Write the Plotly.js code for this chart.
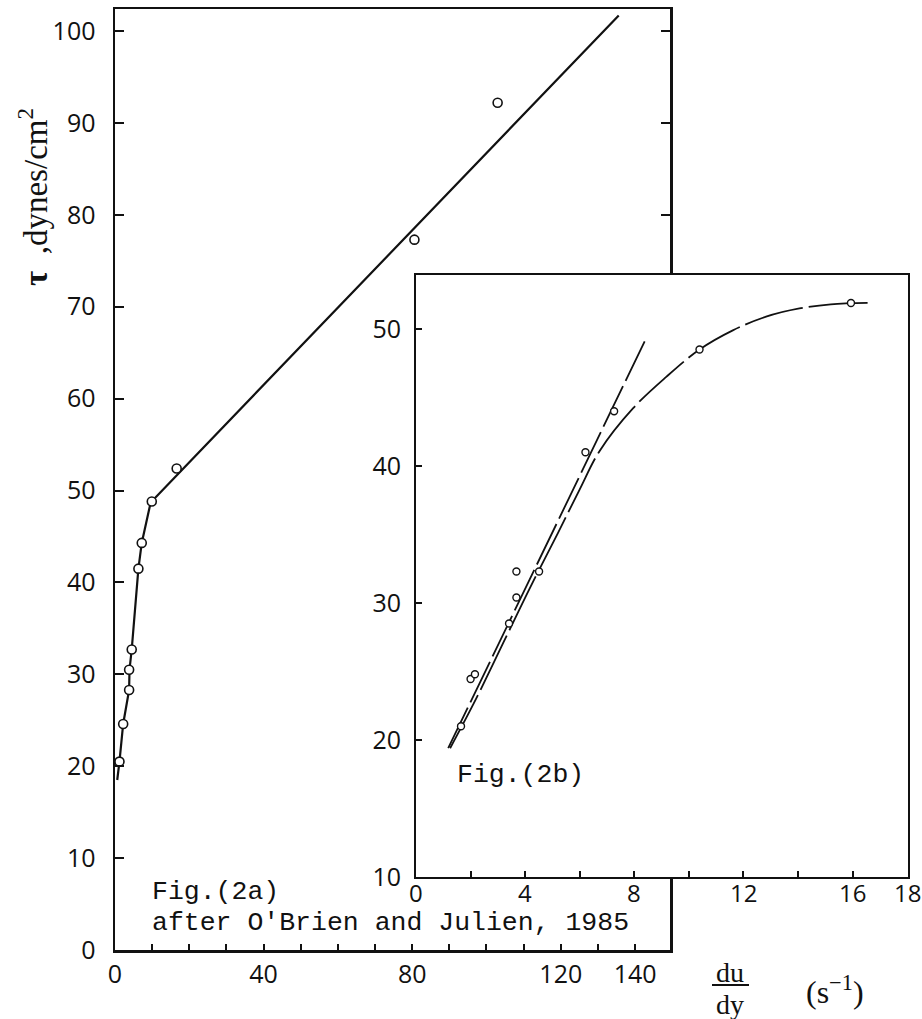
<!DOCTYPE html>
<html>
<head>
<meta charset="utf-8">
<script src="https://cdn.plot.ly/plotly-3.0.1.min.js"></script>
<style>html,body{margin:0;padding:0;background:#fff;}#chart{width:922px;height:1019px;}</style>
</head>
<body>
<div id="chart"></div>
<script>
// ---- Fig. (2a): shear stress vs. shear rate (main plot) ----
const mainPointsX = [1.2, 2.2, 3.8, 3.8, 4.5, 6.3, 7.2, 9.9, 16.6, 80.6, 103.0];
const mainPointsY = [20.5, 24.6, 28.3, 30.5, 32.7, 41.5, 44.3, 48.8, 52.4, 77.3, 92.2];
const mainFitX = [0.6, 1.2, 2.2, 3.8, 3.9, 4.5, 6.3, 7.2, 9.6, 135.6];
const mainFitY = [18.5, 20.5, 24.6, 28.3, 30.5, 32.7, 41.5, 44.3, 48.7, 101.7];
const mainXTicks = [0, 40, 80, 120, 140];
const mainYTicks = [0, 10, 20, 30, 40, 50, 60, 70, 80, 90, 100];

// ---- Fig. (2b): inset ----
const insetPointsX = [1.65, 2.0, 2.16, 3.41, 3.68, 3.68, 4.51, 6.21, 7.26, 10.39, 15.94];
const insetPointsY = [21.0, 24.45, 24.8, 28.5, 30.4, 32.3, 32.3, 41.0, 44.0, 48.5, 51.9];
const insetLineX = [1.18, 8.38];
const insetLineY = [19.4, 49.1];
const insetCurveX = [1.25, 2.2, 3.2, 4.2, 5.2, 6.0, 6.73, 7.95, 9.17, 10.39, 11.61, 12.83, 14.05, 15.2, 16.55];
const insetCurveY = [19.4, 23.0, 27.1, 31.2, 35.1, 38.3, 41.1, 44.2, 46.5, 48.5, 49.9, 50.9, 51.5, 51.8, 51.9];
const insetXTicks = [0, 4, 8, 12, 16, 18];
const insetYTicks = [10, 20, 30, 40, 50];

const W = 922, H = 1019;
const px = v => v / W;
const py = v => 1 - v / H;

const ink = '#111';
const tickFont = {family: 'Open Sans, DejaVu Sans, sans-serif', size: 25, color: ink};
const monoFont = {family: 'Liberation Mono, Courier New, monospace', size: 26.5, color: ink};
const serifFont = {family: 'Liberation Serif, Times New Roman, serif', size: 28, color: ink};
const NB = '\u00a0';

const traces = [
  {x: mainFitX, y: mainFitY, xaxis: 'x', yaxis: 'y', mode: 'lines',
   line: {color: ink, width: 2.2}, hoverinfo: 'skip', showlegend: false},
  {x: mainPointsX, y: mainPointsY, xaxis: 'x', yaxis: 'y', mode: 'markers',
   marker: {symbol: 'circle', size: 9, color: '#fff', line: {color: ink, width: 1.6}}, showlegend: false},
  {x: insetLineX, y: insetLineY, xaxis: 'x2', yaxis: 'y2', mode: 'lines',
   line: {color: ink, width: 1.8, dash: '45px,6px'}, hoverinfo: 'skip', showlegend: false},
  {x: insetCurveX, y: insetCurveY, xaxis: 'x2', yaxis: 'y2', mode: 'lines',
   line: {color: ink, width: 1.8, dash: '60px,6px', shape: 'spline', smoothing: 1}, hoverinfo: 'skip', showlegend: false},
  {x: insetPointsX, y: insetPointsY, xaxis: 'x2', yaxis: 'y2', mode: 'markers',
   marker: {symbol: 'circle', size: 7, color: '#fff', line: {color: ink, width: 1.4}}, showlegend: false}
];

// inset x tick labels, placed on the inset's own x scale
const insetXLabelAnnots = insetXTicks.map(v => ({
  xref: 'x2', yref: 'paper', x: v, y: py(892), text: String(v),
  showarrow: false, font: Object.assign({}, tickFont, {size: 24}), xanchor: 'center', yanchor: 'middle'
}));

const layout = {
  width: W, height: H,
  margin: {l: 0, r: 0, t: 0, b: 0},
  paper_bgcolor: '#fff', plot_bgcolor: '#fff',
  showlegend: false,
  xaxis: {
    domain: [px(115), px(670)], range: [0, 149.4], anchor: 'y',
    tickmode: 'array', tickvals: mainXTicks,
    ticks: 'inside', ticklen: 6, tickwidth: 2, tickcolor: ink,
    minor: {dtick: 10, tick0: 0, ticks: 'inside', ticklen: 6, tickwidth: 2, tickcolor: ink, showgrid: false},
    showline: true, linewidth: 2.5, linecolor: ink, mirror: true,
    showgrid: false, zeroline: false, tickfont: tickFont, ticklabelstandoff: 0
  },
  yaxis: {
    domain: [py(950), py(9)], range: [0, 102.4], anchor: 'x',
    tickmode: 'array', tickvals: mainYTicks,
    ticks: 'inside', ticklen: 9, tickwidth: 2, tickcolor: ink,
    showline: true, linewidth: 2.5, linecolor: ink, mirror: 'ticks',
    showgrid: false, zeroline: false, tickfont: tickFont, ticklabelstandoff: 12
  },
  xaxis2: {
    domain: [px(416), px(908)], range: [0, 18.03], anchor: 'y2',
    tickmode: 'array', tickvals: insetXTicks, showticklabels: false,
    ticks: 'inside', ticklen: 6, tickwidth: 2, tickcolor: ink,
    minor: {dtick: 2, tick0: 0, ticks: 'inside', ticklen: 6, tickwidth: 2, tickcolor: ink, showgrid: false},
    showline: true, linewidth: 2, linecolor: ink, mirror: true,
    showgrid: false, zeroline: false
  },
  yaxis2: {
    domain: [py(877), py(275)], range: [10, 53.94], anchor: 'x2',
    tickmode: 'array', tickvals: insetYTicks,
    ticks: 'inside', ticklen: 6, tickwidth: 2, tickcolor: ink,
    showline: true, linewidth: 2, linecolor: ink, mirror: true,
    showgrid: false, zeroline: false, tickfont: tickFont, ticklabelstandoff: 8
  },
  shapes: [
    {type: 'line', xref: 'paper', yref: 'paper', x0: px(712), x1: px(749), y0: py(985), y1: py(985),
     line: {color: ink, width: 1.8}}
  ],
  annotations: [
    {xref: 'paper', yref: 'paper', x: px(33), y: py(197),
     text: '<b>τ</b>' + NB + NB + ',dynes/cm<sup>2</sup>',
     textangle: -90, showarrow: false, font: Object.assign({}, serifFont, {size: 33}), xanchor: 'center', yanchor: 'middle'},
    {xref: 'paper', yref: 'paper', x: px(150), y: py(892), text: 'Fig.(2a)',
     showarrow: false, font: monoFont, xanchor: 'left', yanchor: 'middle'},
    {xref: 'paper', yref: 'paper', x: px(150), y: py(923), text: "after O'Brien and Julien, 1985",
     showarrow: false, font: monoFont, xanchor: 'left', yanchor: 'middle'},
    {xref: 'paper', yref: 'paper', x: px(455), y: py(775), text: 'Fig.(2b)',
     showarrow: false, font: monoFont, xanchor: 'left', yanchor: 'middle'},
    {xref: 'paper', yref: 'paper', x: px(730), y: py(972), text: 'du',
     showarrow: false, font: serifFont, xanchor: 'center', yanchor: 'middle'},
    {xref: 'paper', yref: 'paper', x: px(730), y: py(1004), text: 'dy',
     showarrow: false, font: serifFont, xanchor: 'center', yanchor: 'middle'},
    {xref: 'paper', yref: 'paper', x: px(835), y: py(990), text: '(s<sup>−1</sup>)',
     showarrow: false, font: Object.assign({}, serifFont, {size: 32}), xanchor: 'center', yanchor: 'middle'}
  ].concat(insetXLabelAnnots)
};

Plotly.newPlot('chart', traces, layout, {staticPlot: true, displayModeBar: false});
</script>
</body>
</html>
